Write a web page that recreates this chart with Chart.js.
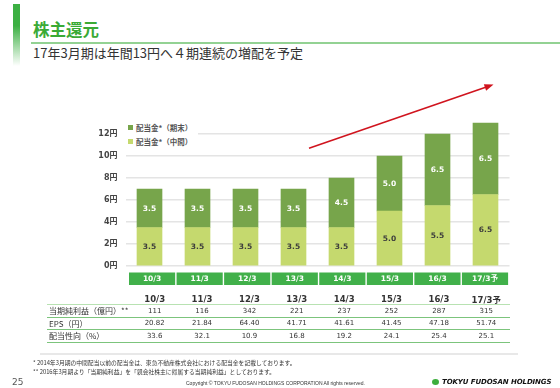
<!DOCTYPE html>
<html>
<head>
<meta charset="utf-8">
<script src="https://cdn.jsdelivr.net/npm/chart.js@4.4.1/dist/chart.umd.min.js"></script>
<style>
  body { margin: 0; width: 560px; height: 388px; position: relative; background: #fff; overflow: hidden;
         font-family: "Noto Sans CJK JP", "DejaVu Sans", sans-serif; color: #333; }
  .abs { position: absolute; }
  #sidebar { left: 13px; top: 4px; width: 7px; height: 62px;
             background: linear-gradient(#3cb043 0%, #3cb043 35%, #ffffff 100%); }
  #title { left: 33px; top: 21px; font-size: 16.5px; line-height: 17px; font-weight: bold; color: #3aaa35; }
  #rule { left: 31px; top: 42px; width: 529px; height: 2px; background: #93d293; }
  #sub { left: 33px; top: 46px; font-size: 13px; line-height: 14px; color: #333; white-space: nowrap; }
  #chart { left: 0; top: 70px; }
  #legend { left: 126px; top: 120px; width: 72px; background: #fff; }
  #legend .row { height: 14px; display: flex; align-items: center; font-size: 7.5px; font-weight: bold; color: #555; white-space: nowrap; }
  #legend .sw { width: 5px; height: 5px; margin: 0 3px 0 2px; }
  #table { left: 47px; top: 293px; width: 463px; }
  #table .tr { display: flex; height: 11.5px; border-bottom: 1.5px solid #7cc47c; align-items: center; }
  #table .tr.head { height: 11px; border-bottom: 1.5px solid #b8e2b2; }
  #table .lab { width: 84px; font-size: 8px; padding-left: 2px; box-sizing: border-box; white-space: nowrap; }
  #table .c { width: 47.4px; text-align: center; font-family: "DejaVu Sans", sans-serif; font-size: 7px; }
  #table .head .c { font-weight: bold; font-size: 8.5px; }
  #table .c span.j { font-family: "Noto Sans CJK JP"; }
  #gray { left: 40px; top: 353px; width: 478px; height: 2px; background: #e8e8e8; }
  .note { left: 33px; font-size: 5.8px; line-height: 6px; white-space: nowrap; color: #333; }
  #page { left: 12px; top: 377px; font-size: 9px; line-height: 10px; color: #555; font-family: "DejaVu Sans", sans-serif; }
  #copy { left: 186px; top: 380px; font-size: 5px; line-height: 6px; color: #333; font-family: "Liberation Sans", sans-serif; white-space: nowrap; }
  #logo { left: 432px; top: 377px; height: 10px; display: flex; align-items: center; white-space: nowrap; }
  #logo .dot { width: 7px; height: 6px; border-radius: 50%; background: #3cae3c; margin-right: 3px; }
  #logo .txt { font-family: "DejaVu Sans", sans-serif; font-weight: bold; font-style: italic; font-size: 7px; color: #111; letter-spacing: -0.1px; }
</style>
</head>
<body>
<div id="sidebar" class="abs"></div>
<div id="title" class="abs">株主還元</div>
<div id="rule" class="abs"></div>
<div id="sub" class="abs">17年3月期は年間13円へ４期連続の増配を予定</div>
<canvas id="chart" class="abs" width="560" height="230"></canvas>
<div id="legend" class="abs"></div>
<div id="table" class="abs"></div>
<div id="gray" class="abs"></div>
<div class="note abs" style="top:360px">* 2014年3月期の中間配当以前の配当金は、東急不動産株式会社における配当金を記載しております。</div>
<div class="note abs" style="top:369px">** 2016年3月期より「当期純利益」を「親会社株主に帰属する当期純利益」としております。</div>
<div id="page" class="abs">25</div>
<div id="copy" class="abs">Copyright © TOKYU FUDOSAN HOLDINGS CORPORATION All rights reserved.</div>
<div id="logo" class="abs"><div class="dot"></div><div class="txt">TOKYU FUDOSAN HOLDINGS</div></div>

<script>
const categories = ['10/3', '11/3', '12/3', '13/3', '14/3', '15/3', '16/3', '17/3予'];
const interimDividend = [3.5, 3.5, 3.5, 3.5, 3.5, 5.0, 5.5, 6.5];
const yearEndDividend = [3.5, 3.5, 3.5, 3.5, 4.5, 5.0, 6.5, 6.5];
const yTicks = [0, 2, 4, 6, 8, 10, 12];

const netIncome = [111, 116, 342, 221, 237, 252, 287, 315];
const eps = [20.82, 21.84, 64.40, 41.71, 41.61, 41.45, 47.18, 51.74];
const payoutRatio = [33.6, 32.1, 10.9, 16.8, 19.2, 24.1, 25.4, 25.1];

const darkGreen = '#77a54b';
const lightGreen = '#c5d96e';

// value labels inside the bar segments
const segmentLabels = {
    id: 'segmentLabels',
    afterDatasetsDraw(chart) {
        const ctx = chart.ctx;
        ctx.save();
        ctx.font = 'bold 7.5px "DejaVu Sans"';
        ctx.textAlign = 'center';
        ctx.textBaseline = 'middle';
        chart.data.datasets.forEach((ds, di) => {
            chart.getDatasetMeta(di).data.forEach((bar, i) => {
                ctx.fillStyle = di === 1 ? '#ffffff' : '#3c3c3c';
                ctx.fillText(ds.data[i].toFixed(1), bar.x, (bar.y + bar.base) / 2 + 0.5);
            });
        });
        ctx.restore();
    }
};

// green boxes with the category names under the axis
const categoryBoxes = {
    id: 'categoryBoxes',
    afterDraw(chart) {
        const ctx = chart.ctx;
        const area = chart.chartArea;
        const start = area.left + 3.5;
        const step = (area.right - start) / categories.length;
        const top = area.bottom + 6.5;
        ctx.save();
        categories.forEach((c, i) => {
            ctx.fillStyle = '#41b04a';
            ctx.fillRect(start + i * step, top, step - 1.4, 12.5);
            ctx.fillStyle = '#ffffff';
            ctx.font = 'bold 7.5px "DejaVu Sans", "Noto Sans CJK JP"';
            ctx.textAlign = 'center';
            ctx.textBaseline = 'middle';
            ctx.fillText(c, start + i * step + (step - 1.4) / 2, top + 6.5);
        });
        ctx.restore();
    }
};

// red trend arrow above the bars
const trendArrow = {
    id: 'trendArrow',
    afterDatasetsDraw(chart) {
        const x = chart.scales.x, y = chart.scales.y;
        const x0 = x.getPixelForValue(3) + 15.5, y0 = y.getPixelForValue(10.7);
        const x1 = x.getPixelForValue(7) + 8, y1 = y.getPixelForValue(16.5);
        const ang = Math.atan2(y1 - y0, x1 - x0);
        const ctx = chart.ctx;
        ctx.save();
        ctx.strokeStyle = '#d0141e';
        ctx.fillStyle = '#d0141e';
        ctx.lineWidth = 1.6;
        ctx.beginPath();
        ctx.moveTo(x0, y0);
        ctx.lineTo(x1 - 6 * Math.cos(ang), y1 - 6 * Math.sin(ang));
        ctx.stroke();
        ctx.beginPath();
        ctx.moveTo(x1, y1);
        ctx.lineTo(x1 - 9 * Math.cos(ang) + 3.5 * Math.sin(ang), y1 - 9 * Math.sin(ang) - 3.5 * Math.cos(ang));
        ctx.lineTo(x1 - 9 * Math.cos(ang) - 3.5 * Math.sin(ang), y1 - 9 * Math.sin(ang) + 3.5 * Math.cos(ang));
        ctx.closePath();
        ctx.fill();
        ctx.restore();
    }
};

const chart = new Chart(document.getElementById('chart').getContext('2d'), {
    type: 'bar',
    data: {
        labels: categories,
        datasets: [
            { label: '配当金*（中間）', data: interimDividend, backgroundColor: lightGreen, barThickness: 25, clip: false },
            { label: '配当金*（期末）', data: yearEndDividend, backgroundColor: darkGreen, barThickness: 25, clip: false }
        ]
    },
    options: {
        responsive: false,
        animation: false,
        layout: { padding: { top: 64, bottom: 34, left: 0, right: 50.5 } },
        plugins: { legend: { display: false }, tooltip: { enabled: false } },
        scales: {
            x: { stacked: true, display: false },
            y: {
                stacked: true,
                min: 0,
                max: 12,
                afterBuildTicks: s => { s.ticks = yTicks.map(v => ({ value: v })); },
                afterFit: s => { s.width = 125.5; },
                border: { display: false },
                grid: { color: '#e4e4e4', lineWidth: 1.5, drawTicks: false },
                ticks: {
                    padding: 8,
                    color: '#444',
                    font: { family: '"DejaVu Sans", "Noto Sans CJK JP"', weight: 'bold', size: 8 },
                    callback: v => v + '円'
                }
            }
        }
    },
    plugins: [segmentLabels, categoryBoxes, trendArrow]
});

// legend (期末 on top, 中間 below)
const legend = document.getElementById('legend');
[1, 0].forEach(di => {
    const ds = chart.data.datasets[di];
    legend.innerHTML += `<div class="row"><div class="sw" style="background:${ds.backgroundColor}"></div>${ds.label}</div>`;
});

// table under the chart
function cat(c) {
    return c.replace('予', '<span class="j">予</span>');
}
const rows = [
    ['当期純利益（億円）**', netIncome.map(v => String(v))],
    ['EPS（円）', eps.map(v => v.toFixed(2))],
    ['配当性向（%）', payoutRatio.map(v => v.toFixed(1))]
];
let html = '<div class="tr head"><div class="lab"></div>' + categories.map(c => `<div class="c">${cat(c)}</div>`).join('') + '</div>';
rows.forEach(r => {
    html += `<div class="tr"><div class="lab">${r[0]}</div>` + r[1].map(v => `<div class="c">${v}</div>`).join('') + '</div>';
});
document.getElementById('table').innerHTML = html;
</script>
</body>
</html>
